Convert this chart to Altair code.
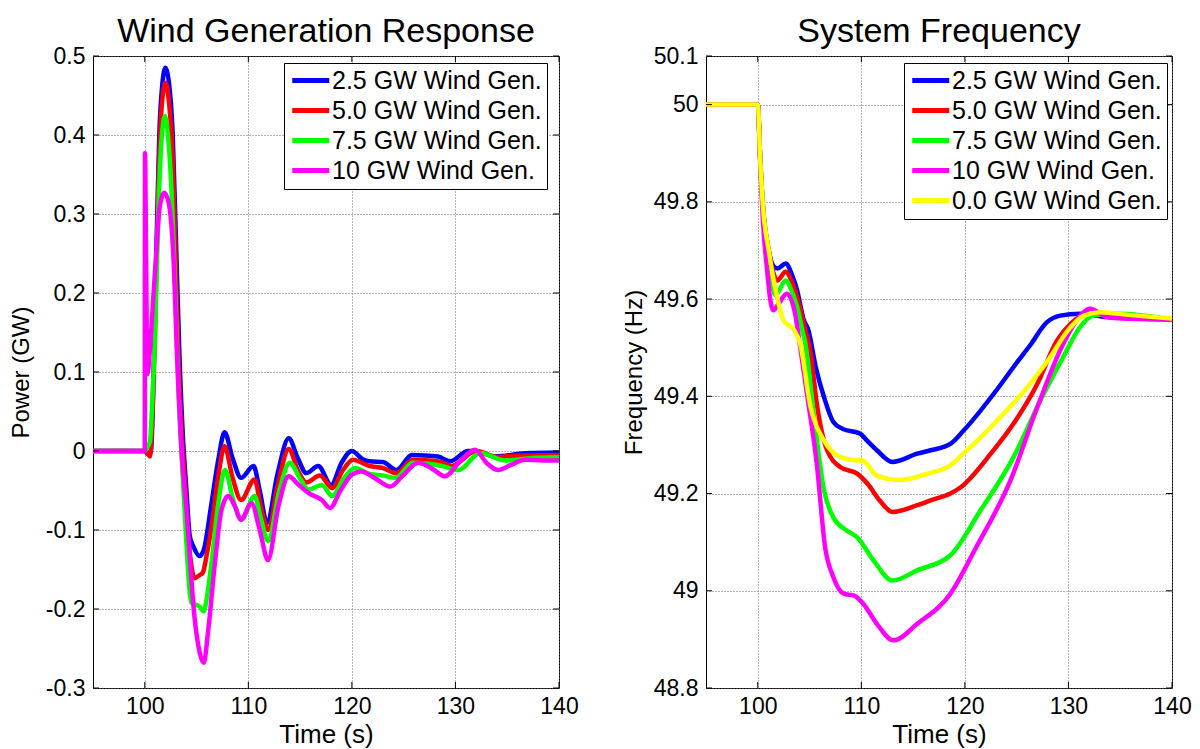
import altair as alt
import pandas as pd

FONT = "Liberation Sans"
W, H = 466, 632
TICK = 6

T_DOMAIN = [95, 140]
X_TICKS = [100, 110, 120, 130, 140]
P_DOMAIN = [-0.3, 0.5]
P_TICKS = [-0.3, -0.2, -0.1, 0, 0.1, 0.2, 0.3, 0.4, 0.5]
F_DOMAIN = [48.8, 50.1]
F_TICKS = [48.8, 49.0, 49.2, 49.4, 49.6, 49.8, 50.0, 50.1]

P_NAMES = ["2.5 GW Wind Gen.", "5.0 GW Wind Gen.", "7.5 GW Wind Gen.", "10 GW Wind Gen."]
F_NAMES = ["2.5 GW Wind Gen.", "5.0 GW Wind Gen.", "7.5 GW Wind Gen.", "10 GW Wind Gen.", "0.0 GW Wind Gen."]
COLORS = ["#0000ff", "#ff0000", "#00ff00", "#ff00ff", "#ffff00"]

# ---- Wind generation response (GW) ----
P25_T = [95, 100, 100.3, 100.6, 100.9, 101.15, 101.4, 101.7, 102.0, 102.3, 102.7, 103.05, 103.35, 103.7, 104.0, 104.35, 104.7, 105.3, 105.7, 106.4, 107.1, 107.7, 108.5, 109.3, 110.5, 111.1, 111.8, 112.8, 113.9, 114.8, 115.6, 116.75, 118.0, 119.0, 120.0, 121.0, 121.7, 123.0, 124.3, 125.8, 128.3, 129.5, 131.2, 131.9, 133.8, 136.7, 140]
P25_V = [0, 0, -0.004, 0.0, 0.12, 0.27, 0.40, 0.465, 0.485, 0.47, 0.40, 0.25, 0.12, 0.014, -0.045, -0.108, -0.121, -0.133, -0.125, -0.07, -0.011, 0.0236, -0.01, -0.034, -0.019, -0.05, -0.091, -0.03, 0.016, -0.01, -0.028, -0.019, -0.043, -0.015, 0.0, -0.01, -0.013, -0.014, -0.024, -0.005, -0.007, -0.013, 0.0, 0.0, -0.007, -0.003, -0.002]

P50_T = [95, 100, 100.25, 100.5, 100.75, 101.0, 101.3, 101.6, 102.0, 102.35, 102.7, 103.0, 103.3, 103.6, 103.9, 104.2, 104.5, 104.8, 105.3, 105.6, 106.0, 106.4, 107.1, 107.7, 108.5, 109.3, 110.6, 111.2, 111.9, 112.9, 113.9, 114.8, 115.6, 116.9, 118.1, 119.1, 120.1, 121.7, 123.0, 124.3, 125.9, 128.3, 129.6, 132.0, 134.1, 136.0, 140]
P50_V = [0, 0, -0.002, -0.007, 0.05, 0.16, 0.33, 0.43, 0.466, 0.44, 0.37, 0.235, 0.10, 0.014, -0.045, -0.108, -0.145, -0.161, -0.157, -0.154, -0.13, -0.10, -0.032, 0.006, -0.035, -0.062, -0.036, -0.07, -0.10, -0.04, 0.0025, -0.025, -0.04, -0.031, -0.047, -0.025, -0.011, -0.019, -0.0215, -0.028, -0.011, -0.013, -0.019, 0.0, -0.0076, -0.006, -0.005]

P75_T = [95, 100, 100.25, 100.5, 100.75, 101.0, 101.3, 101.6, 101.95, 102.3, 102.65, 102.95, 103.25, 103.55, 104.0, 104.35, 104.5, 105.3, 105.7, 106.0, 106.4, 107.1, 107.75, 108.5, 109.3, 110.6, 111.2, 111.9, 113.0, 114.0, 115.0, 115.8, 117.1, 118.1, 119.2, 120.3, 121.7, 123.0, 124.2, 125.9, 128.7, 130.3, 132.4, 134.8, 137.4, 140]
P75_V = [0, 0, 0.005, 0.012, 0.07, 0.15, 0.30, 0.39, 0.424, 0.39, 0.31, 0.20, 0.08, -0.005, -0.112, -0.18, -0.192, -0.197, -0.203, -0.185, -0.146, -0.066, -0.024, -0.06, -0.087, -0.057, -0.085, -0.114, -0.05, -0.015, -0.035, -0.049, -0.043, -0.057, -0.035, -0.0215, -0.029, -0.031, -0.034, -0.015, -0.019, -0.024, -0.0025, -0.012, -0.009, -0.008]

P10_T = [95, 100, 100.02, 100.12, 100.26, 100.5, 101.0, 101.45, 101.87, 102.3, 102.75, 103.15, 103.55, 104.0, 104.8, 105.3, 105.7, 106.1, 106.8, 107.4, 108.06, 108.7, 109.3, 110.3, 111.1, 111.9, 112.9, 113.9, 114.8, 115.8, 117.1, 117.9, 118.9, 120.0, 120.9, 122.3, 123.7, 125.0, 126.4, 127.7, 129.0, 130.5, 131.9, 133.0, 134.1, 135.3, 136.7, 138.5, 140]
P10_V = [0, 0, 0.377, 0.25, 0.097, 0.13, 0.23, 0.31, 0.327, 0.315, 0.25, 0.11, 0.0, -0.07, -0.21, -0.255, -0.268, -0.23, -0.138, -0.075, -0.057, -0.07, -0.087, -0.066, -0.1, -0.138, -0.07, -0.032, -0.042, -0.053, -0.062, -0.072, -0.05, -0.03, -0.026, -0.035, -0.045, -0.03, -0.015, -0.022, -0.032, -0.012, 0.0016, -0.015, -0.024, -0.018, -0.011, -0.012, -0.012]

# ---- System frequency (Hz) ----
F25_T = [95, 100, 100.25, 100.5, 101.06, 101.5, 101.9, 102.7, 103.3, 103.8, 104.4, 104.9, 105.6, 106.4, 107.3, 108.2, 109.9, 110.5, 111.5, 113.0, 115.4, 116.7, 118.6, 119.9, 123.1, 125.0, 126.3, 127.9, 129.2, 131.1, 133.7, 140]
F25_V = [50, 50, 49.88, 49.79, 49.70, 49.668, 49.663, 49.673, 49.65, 49.618, 49.56, 49.535, 49.46, 49.398, 49.347, 49.333, 49.323, 49.31, 49.289, 49.265, 49.282, 49.289, 49.302, 49.33, 49.414, 49.469, 49.505, 49.552, 49.566, 49.57, 49.563, 49.558]

F50_T = [95, 100, 100.25, 100.5, 101.06, 101.5, 101.87, 102.7, 103.3, 103.8, 104.6, 105.1, 105.7, 106.7, 108.0, 109.6, 110.6, 111.8, 113.0, 115.4, 116.7, 118.6, 119.6, 122.5, 124.7, 127.0, 128.9, 130.2, 131.8, 134.4, 140]
F50_V = [50, 50, 49.88, 49.79, 49.70, 49.655, 49.638, 49.656, 49.635, 49.604, 49.536, 49.49, 49.385, 49.289, 49.254, 49.241, 49.22, 49.185, 49.162, 49.176, 49.186, 49.2, 49.213, 49.282, 49.344, 49.426, 49.515, 49.549, 49.57, 49.569, 49.558]

F75_T = [95, 100, 100.25, 100.5, 101.0, 101.4, 101.7, 102.7, 103.3, 103.8, 104.3, 104.6, 105.4, 106.4, 107.3, 108.6, 109.6, 111.2, 113.0, 115.4, 118.6, 121.5, 124.7, 127.3, 129.5, 131.1, 132.4, 134.7, 140]
F75_V = [50, 50, 49.88, 49.79, 49.70, 49.63, 49.608, 49.638, 49.615, 49.584, 49.536, 49.508, 49.364, 49.206, 49.151, 49.124, 49.11, 49.062, 49.021, 49.042, 49.073, 49.165, 49.275, 49.392, 49.481, 49.542, 49.566, 49.57, 49.558]

F10_T = [95, 100, 100.25, 100.5, 100.9, 101.2, 101.5, 102.0, 102.8, 103.6, 104.1, 104.8, 105.7, 106.5, 107.3, 108.3, 109.3, 110.2, 111.5, 113.1, 115.4, 118.6, 121.0, 124.4, 127.0, 129.5, 130.8, 132.1, 133.7, 135.3, 140]
F10_V = [50, 50, 49.87, 49.76, 49.66, 49.60, 49.577, 49.59, 49.611, 49.57, 49.501, 49.398, 49.261, 49.09, 49.028, 48.994, 48.99, 48.973, 48.932, 48.898, 48.932, 48.994, 49.086, 49.227, 49.378, 49.508, 49.556, 49.58, 49.563, 49.56, 49.558]

F00_T = [95, 100, 100.25, 100.5, 101.06, 101.87, 102.5, 103.5, 104.1, 105.1, 106.4, 108.0, 109.6, 110.1, 111.5, 113.8, 116.4, 118.6, 120.0, 121.5, 123.1, 125.7, 127.9, 130.2, 131.5, 133.1, 136.0, 140]
F00_V = [50, 50, 49.88, 49.79, 49.70, 49.604, 49.556, 49.536, 49.508, 49.378, 49.309, 49.275, 49.268, 49.268, 49.237, 49.228, 49.241, 49.258, 49.285, 49.315, 49.35, 49.41, 49.47, 49.542, 49.566, 49.573, 49.567, 49.56]


def make_panel(series, names, colors, y_dom, y_ticks, y_title, title, y_label_expr, legend_x):
    xscale = alt.Scale(domain=T_DOMAIN, nice=False, zero=False)
    yscale = alt.Scale(domain=y_dom, nice=False, zero=False)
    xaxis = alt.Axis(values=X_TICKS, title="Time (s)", grid=True, domain=False, ticks=False,
                     labelFlush=False, labelPadding=7, titlePadding=3, titleFontSize=26)
    yaxis = alt.Axis(values=y_ticks, title=y_title, grid=True, domain=False, ticks=False,
                     labelFlush=False, labelExpr=y_label_expr, labelPadding=8,
                     minExtent=54, maxExtent=54, titlePadding=6)
    legend = alt.Legend(title=None, orient="none", legendX=legend_x, legendY=7,
                        symbolType="M-1,0H3", symbolSize=342, symbolStrokeWidth=5,
                        labelFont=FONT, labelFontSize=25, labelColor="black", labelOffset=18,
                        labelExpr="datum.label + '\u00a0\u00a0'",
                        strokeColor="black", fillColor="white", padding=5, rowPadding=4,
                        labelLimit=400)
    cscale = alt.Scale(domain=names, range=colors)
    layers = []
    for name, (t, v) in zip(names, series):
        df = pd.DataFrame({"t": t, "v": v, "s": [name] * len(t)})
        layers.append(
            alt.Chart(df).mark_line(strokeWidth=4.5, interpolate="monotone", clip=True).encode(
                x=alt.X("t:Q", scale=xscale, axis=xaxis),
                y=alt.Y("v:Q", scale=yscale, axis=yaxis),
                color=alt.Color("s:N", scale=cscale, legend=legend),
            )
        )
    xt = pd.DataFrame({"t": X_TICKS})
    yt = pd.DataFrame({"v": y_ticks})
    layers.append(alt.Chart(xt).mark_rule(color="black", strokeWidth=1).encode(
        x=alt.X("t:Q", scale=xscale, axis=xaxis), y=alt.value(0), y2=alt.value(TICK)))
    layers.append(alt.Chart(xt).mark_rule(color="black", strokeWidth=1).encode(
        x=alt.X("t:Q", scale=xscale, axis=xaxis), y=alt.value(H - TICK), y2=alt.value(H)))
    layers.append(alt.Chart(yt).mark_rule(color="black", strokeWidth=1).encode(
        y=alt.Y("v:Q", scale=yscale, axis=yaxis), x=alt.value(0), x2=alt.value(TICK)))
    layers.append(alt.Chart(yt).mark_rule(color="black", strokeWidth=1).encode(
        y=alt.Y("v:Q", scale=yscale, axis=yaxis), x=alt.value(W - TICK), x2=alt.value(W)))
    return alt.layer(*layers).properties(
        width=W, height=H,
        title=alt.TitleParams(text=title, fontSize=34, font=FONT, fontWeight="normal",
                              color="black", offset=-4, anchor="middle"),
    )


left = make_panel(
    [(P25_T, P25_V), (P50_T, P50_V), (P75_T, P75_V), (P10_T, P10_V)],
    P_NAMES, COLORS[:4], P_DOMAIN, P_TICKS, "Power (GW)", "Wind Generation Response",
    "datum.value < 0 ? '-' + format(-datum.value, '.1~f') : format(datum.value, '.1~f')",
    191,
)
right = make_panel(
    [(F25_T, F25_V), (F50_T, F50_V), (F75_T, F75_V), (F10_T, F10_V), (F00_T, F00_V)],
    F_NAMES, COLORS, F_DOMAIN, F_TICKS, "Frequency (Hz)", "System Frequency",
    "format(datum.value, '.1~f')",
    198,
)

chart = alt.hconcat(left, right, spacing=147, bounds="flush").resolve_scale(
    color="independent"
).properties(
    padding={"left": 0, "top": 6, "right": 0, "bottom": 0}
).configure_view(
    stroke="black", strokeWidth=1
).configure_axis(
    gridColor="#6e6e6e", gridDash=[1, 2], gridOpacity=1, gridWidth=1,
    labelFont=FONT, labelFontSize=23, labelColor="black",
    titleFont=FONT, titleFontSize=24, titleFontWeight="normal", titleColor="black",
)

chart.save("out.html", embed_options={"renderer": "svg", "actions": False})
